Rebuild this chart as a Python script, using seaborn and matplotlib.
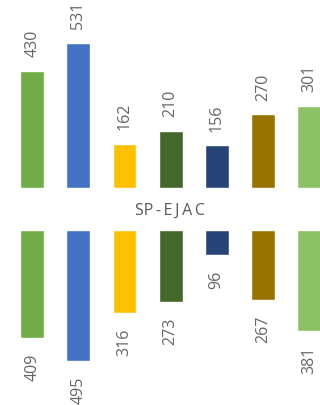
import matplotlib
matplotlib.use("Agg")
import matplotlib.pyplot as plt
import seaborn as sns

sns.set_theme(style="white")
plt.rcParams["font.family"] = ["Open Sans", "DejaVu Sans"]

categories = ["A", "B", "C", "D", "E", "F", "G"]
top_values = [430, 531, 162, 210, 156, 270, 301]
bottom_values = [409, 495, 316, 273, 96, 267, 381]
colors = ["#70AD47", "#4472C4", "#FFC000", "#43682B", "#264478", "#997300", "#8DC166"]
title = "SP\u2009-\u2009E\u2009J\u2009A\u2009C"

W, H = 320, 406
fig = plt.figure(figsize=(W / 100, H / 100), dpi=100)
fig.patch.set_facecolor("white")

ax_top = fig.add_axes([0, (H - 189) / H, 1, 189 / H])
ax_bot = fig.add_axes([0, 0, 1, (H - 231) / H])

label_color = "#666666"

for ax, vals, inverted in ((ax_top, top_values, False), (ax_bot, bottom_values, True)):
    sns.barplot(x=categories, y=vals, hue=categories, palette=colors,
                legend=False, width=0.52, saturation=1, ax=ax)
    ax.set_xlim(-0.70, 6.24)
    if inverted:
        ax.set_ylim(663, 0)
    else:
        ax.set_ylim(0, 692)
    for i, v in enumerate(vals):
        ax.annotate(str(v), (i, v), xytext=(0, -10.5 if inverted else 10.5),
                    textcoords="offset points", rotation=90, ha="center",
                    va="top" if inverted else "bottom",
                    fontsize=11.5, color=label_color)
    ax.set_axis_off()

fig.text(170 / W, 1 - 211 / H, title, ha="center", va="center",
         fontsize=11.5, color="#595959")

fig.savefig("out.png", dpi=100, facecolor="white")
